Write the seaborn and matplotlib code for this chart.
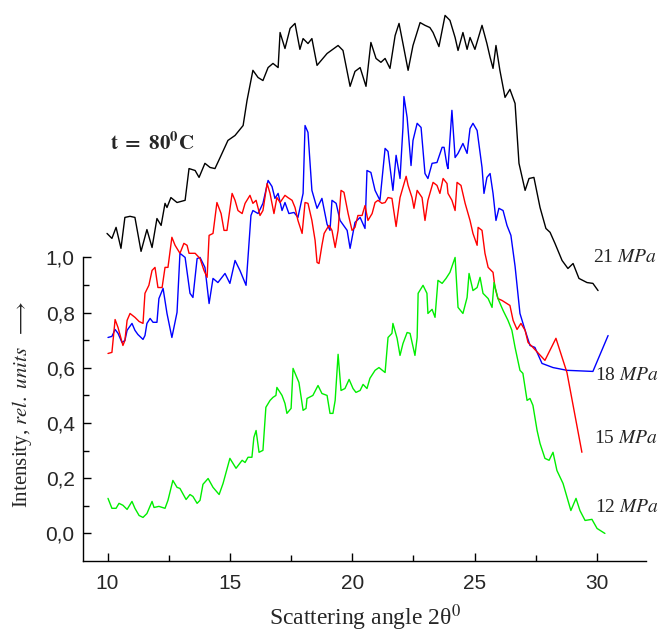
import numpy as np
import pandas as pd
import matplotlib
matplotlib.use('Agg')
import matplotlib.pyplot as plt
import seaborn as sns
from matplotlib.ticker import FuncFormatter, MultipleLocator

x_21 = [9.98, 10.18, 10.35, 10.55, 10.71, 10.92, 11.12, 11.37, 11.61, 11.82, 12.02, 12.19, 12.35, 12.43,
        12.59, 12.84, 13.17, 13.33, 13.58, 13.74, 13.98, 14.19, 14.39, 14.60, 14.92, 15.21, 15.54, 15.70,
        15.94, 16.15, 16.35, 16.56, 16.76, 16.97, 17.05, 17.25, 17.46, 17.66, 17.86, 17.99, 18.19, 18.35,
        18.56, 18.97, 19.42, 19.62, 19.91, 20.11, 20.32, 20.56, 20.76, 20.97, 21.17, 21.34, 21.54, 21.75,
        21.91, 22.07, 22.28, 22.48, 22.77, 22.97, 23.17, 23.30, 23.54, 23.79, 23.99, 24.20, 24.32, 24.52,
        24.69, 24.81, 25.01, 25.30, 25.50, 25.63, 25.75, 25.87, 26.03, 26.24, 26.44, 26.65, 26.81, 27.06,
        27.22, 27.42, 27.67, 27.91, 28.08, 28.28, 28.57, 28.81, 29.02, 29.26, 29.59, 29.83, 30.04]
y_21 = [1.087, 1.069, 1.109, 1.033, 1.145, 1.149, 1.145, 1.022, 1.101, 1.036, 1.141, 1.116, 1.196, 1.181,
        1.217, 1.199, 1.207, 1.322, 1.315, 1.290, 1.341, 1.326, 1.322, 1.362, 1.424, 1.442, 1.478, 1.569,
        1.678, 1.652, 1.641, 1.688, 1.703, 1.688, 1.815, 1.757, 1.830, 1.848, 1.754, 1.793, 1.775, 1.793,
        1.696, 1.739, 1.768, 1.750, 1.620, 1.674, 1.688, 1.620, 1.779, 1.721, 1.707, 1.721, 1.685, 1.804,
        1.848, 1.775, 1.678, 1.768, 1.851, 1.841, 1.833, 1.815, 1.764, 1.877, 1.859, 1.797, 1.750, 1.815,
        1.754, 1.797, 1.754, 1.841, 1.775, 1.725, 1.685, 1.768, 1.678, 1.580, 1.609, 1.558, 1.341, 1.243,
        1.286, 1.290, 1.181, 1.105, 1.091, 1.051, 0.989, 0.960, 0.978, 0.924, 0.909, 0.906, 0.880]

x_18 = [10.02, 10.18, 10.31, 10.43, 10.59, 10.71, 10.80, 11.00, 11.12, 11.24, 11.45, 11.53, 11.61, 11.74,
        11.86, 12.02, 12.10, 12.27, 12.43, 12.63, 12.84, 12.96, 13.17, 13.37, 13.49, 13.66, 13.78, 13.98,
        14.15, 14.31, 14.51, 14.80, 15.00, 15.21, 15.41, 15.66, 15.86, 15.94, 16.15, 16.35, 16.56, 16.72,
        16.84, 16.97, 17.13, 17.25, 17.41, 17.62, 17.78, 17.99, 18.07, 18.19, 18.35, 18.56, 18.76, 18.97,
        19.09, 19.17, 19.34, 19.50, 19.79, 19.91, 20.11, 20.32, 20.52, 20.60, 20.76, 20.93, 21.13, 21.34,
        21.46, 21.66, 21.79, 21.95, 22.07, 22.11, 22.24, 22.40, 22.48, 22.65, 22.81, 22.97, 23.09, 23.26,
        23.46, 23.67, 23.75, 23.87, 23.91, 24.07, 24.20, 24.32, 24.52, 24.69, 24.81, 24.93, 25.10, 25.30,
        25.38, 25.50, 25.63, 25.75, 25.87, 25.99, 26.16, 26.32, 26.48, 26.65, 26.85, 27.06, 27.26, 27.46,
        27.75, 28.20, 28.77, 29.83, 30.45]
y_18 = [0.710, 0.714, 0.739, 0.725, 0.692, 0.699, 0.736, 0.761, 0.736, 0.721, 0.703, 0.717, 0.761, 0.779,
        0.765, 0.765, 0.851, 0.888, 0.797, 0.710, 0.801, 1.015, 1.000, 0.870, 0.855, 0.996, 1.000, 0.964,
        0.833, 0.924, 0.909, 0.942, 0.906, 0.989, 0.953, 0.899, 1.152, 1.170, 1.159, 1.196, 1.279, 1.257,
        1.214, 1.232, 1.170, 1.199, 1.159, 1.163, 1.145, 1.232, 1.478, 1.453, 1.243, 1.178, 1.214, 1.120,
        1.098, 1.207, 1.196, 1.134, 1.098, 1.033, 1.127, 1.145, 1.105, 1.315, 1.308, 1.243, 1.207, 1.395,
        1.384, 1.243, 1.370, 1.286, 1.471, 1.583, 1.507, 1.333, 1.424, 1.486, 1.471, 1.304, 1.286, 1.341,
        1.344, 1.399, 1.399, 1.333, 1.322, 1.533, 1.362, 1.377, 1.413, 1.377, 1.467, 1.486, 1.460, 1.326,
        1.232, 1.290, 1.304, 1.232, 1.134, 1.178, 1.170, 1.116, 1.080, 0.968, 0.797, 0.736, 0.681, 0.674,
        0.616, 0.601, 0.591, 0.587, 0.717]

x_15 = [10.02, 10.18, 10.31, 10.43, 10.63, 10.71, 10.80, 10.92, 11.12, 11.29, 11.45, 11.53, 11.69, 11.82,
        11.94, 12.06, 12.23, 12.35, 12.47, 12.63, 12.76, 12.96, 13.12, 13.25, 13.33, 13.58, 13.78, 13.94,
        14.07, 14.15, 14.31, 14.47, 14.64, 14.76, 14.88, 15.09, 15.21, 15.33, 15.50, 15.62, 15.82, 15.94,
        16.07, 16.23, 16.35, 16.52, 16.64, 16.80, 16.92, 17.05, 17.25, 17.37, 17.54, 17.66, 17.78, 17.95,
        18.07, 18.19, 18.35, 18.48, 18.56, 18.64, 18.76, 18.85, 18.97, 19.05, 19.17, 19.30, 19.42, 19.54,
        19.66, 19.83, 19.99, 20.11, 20.23, 20.40, 20.52, 20.64, 20.81, 20.93, 21.05, 21.21, 21.34, 21.46,
        21.62, 21.79, 21.95, 22.07, 22.20, 22.28, 22.44, 22.52, 22.65, 22.85, 22.97, 23.09, 23.30, 23.46,
        23.58, 23.71, 23.87, 23.91, 24.07, 24.20, 24.28, 24.44, 24.61, 24.81, 24.93, 25.10, 25.14, 25.30,
        25.42, 25.55, 25.75, 25.83, 25.95, 26.12, 26.44, 26.57, 26.73, 26.89, 27.06, 27.18, 27.38, 27.87,
        28.32, 28.77, 29.38]
y_15 = [0.652, 0.656, 0.775, 0.746, 0.681, 0.699, 0.772, 0.797, 0.783, 0.768, 0.761, 0.870, 0.899, 0.953,
        0.964, 0.891, 0.891, 0.964, 0.964, 1.073, 1.044, 1.015, 1.051, 1.044, 1.015, 1.015, 0.996, 0.953,
        0.928, 1.080, 1.087, 1.199, 1.159, 1.098, 1.098, 1.232, 1.207, 1.170, 1.159, 1.196, 1.225, 1.196,
        1.207, 1.152, 1.170, 1.268, 1.232, 1.159, 1.217, 1.199, 1.225, 1.217, 1.207, 1.181, 1.134, 1.087,
        1.199, 1.196, 1.134, 1.062, 0.982, 0.978, 1.044, 1.087, 1.105, 1.116, 1.098, 1.036, 1.098, 1.243,
        1.236, 1.159, 1.098, 1.109, 1.152, 1.152, 1.188, 1.134, 1.159, 1.199, 1.207, 1.196, 1.199, 1.217,
        1.214, 1.112, 1.217, 1.254, 1.294, 1.261, 1.217, 1.178, 1.243, 1.217, 1.134, 1.207, 1.272, 1.261,
        1.232, 1.286, 1.268, 1.232, 1.207, 1.170, 1.272, 1.261, 1.196, 1.134, 1.087, 1.044, 1.109, 1.098,
        1.015, 0.964, 0.946, 0.891, 0.851, 0.844, 0.826, 0.772, 0.739, 0.761, 0.736, 0.692, 0.674, 0.627,
        0.707, 0.583, 0.294]

x_12 = [10.02, 10.18, 10.35, 10.47, 10.63, 10.80, 11.00, 11.12, 11.29, 11.45, 11.61, 11.82, 11.90, 12.10,
        12.35, 12.47, 12.67, 12.84, 12.96, 13.21, 13.37, 13.49, 13.66, 13.78, 13.90, 14.11, 14.31, 14.56,
        14.72, 15.00, 15.25, 15.50, 15.62, 15.74, 15.90, 15.98, 16.07, 16.19, 16.35, 16.47, 16.64, 16.76,
        16.88, 16.92, 17.13, 17.25, 17.33, 17.50, 17.58, 17.70, 17.82, 17.99, 18.11, 18.15, 18.39, 18.60,
        18.76, 18.97, 19.09, 19.21, 19.30, 19.42, 19.54, 19.70, 19.87, 20.03, 20.15, 20.32, 20.44, 20.60,
        20.72, 20.93, 21.09, 21.34, 21.46, 21.62, 21.66, 21.83, 21.95, 22.07, 22.24, 22.36, 22.56, 22.65,
        22.69, 22.89, 23.05, 23.09, 23.26, 23.38, 23.50, 23.67, 23.83, 23.99, 24.20, 24.32, 24.52, 24.69,
        24.77, 24.93, 25.10, 25.22, 25.34, 25.55, 25.71, 25.79, 25.95, 26.16, 26.36, 26.52, 26.65, 26.85,
        26.97, 27.14, 27.26, 27.38, 27.55, 27.67, 27.87, 28.04, 28.20, 28.36, 28.61, 28.93, 29.14, 29.30,
        29.51, 29.79, 30.00, 30.32]
y_12 = [0.127, 0.091, 0.091, 0.109, 0.102, 0.087, 0.116, 0.091, 0.065, 0.058, 0.072, 0.116, 0.094, 0.098,
        0.091, 0.120, 0.192, 0.167, 0.163, 0.123, 0.141, 0.134, 0.109, 0.120, 0.178, 0.199, 0.167, 0.141,
        0.181, 0.272, 0.236, 0.265, 0.257, 0.276, 0.276, 0.348, 0.373, 0.294, 0.301, 0.457, 0.482, 0.493,
        0.500, 0.529, 0.500, 0.471, 0.435, 0.453, 0.598, 0.573, 0.547, 0.446, 0.453, 0.489, 0.500, 0.536,
        0.507, 0.500, 0.435, 0.435, 0.482, 0.649, 0.518, 0.525, 0.558, 0.525, 0.511, 0.518, 0.540, 0.525,
        0.562, 0.591, 0.601, 0.583, 0.710, 0.725, 0.761, 0.707, 0.645, 0.688, 0.728, 0.725, 0.645, 0.710,
        0.870, 0.899, 0.870, 0.797, 0.812, 0.783, 0.917, 0.906, 0.924, 0.946, 1.000, 0.819, 0.797, 0.855,
        0.942, 0.880, 0.891, 0.928, 0.870, 0.851, 0.819, 0.909, 0.851, 0.808, 0.772, 0.736, 0.674, 0.591,
        0.580, 0.482, 0.489, 0.464, 0.373, 0.326, 0.272, 0.265, 0.294, 0.228, 0.181, 0.083, 0.127, 0.083,
        0.047, 0.051, 0.018, 0.000]

labels = ['21', '18', '15', '12']
label_x = [29.83, 29.90, 29.86, 29.90]
label_y = [1.00, 0.573, 0.344, 0.094]
colors = ['black', '#0000ff', '#ff0000', '#00ee00']

sns.set_style('ticks')
plt.rcParams['font.family'] = ['Liberation Serif', 'DejaVu Serif']
plt.rcParams['mathtext.fontset'] = 'stix'

fig = plt.figure(figsize=(6.68, 6.33), dpi=100)
ax = fig.add_axes([0.1243, 0.1137, 0.8428, 0.872])

curves = [(x_21, y_21), (x_18, y_18), (x_15, y_15), (x_12, y_12)]
for (xs, ys), c in zip(curves, colors):
    df = pd.DataFrame({'angle': xs, 'intensity': ys})
    sns.lineplot(data=df, x='angle', y='intensity', color=c, lw=1.0,
                 sort=False, estimator=None, ax=ax)

for lab, lx, ly in zip(labels, label_x, label_y):
    ax.text(lx, ly, lab + r' $\mathit{MPa}$', fontsize=14, va='center', ha='left')

ax.text(10.12, 1.413, r'$\mathbf{t\ =\ 80^{0}C}$', fontsize=15, va='center', ha='left')

ax.set_xlim(9, 32)
ax.set_ylim(-0.1, 1.9)
ax.set_xlabel('')
ax.set_ylabel('')

sns.despine(ax=ax)
ax.spines['left'].set_bounds(-0.1, 1.0)
for s in ['left', 'bottom']:
    ax.spines[s].set_linewidth(1.0)
    ax.spines[s].set_color('black')

ax.set_xticks([10, 15, 20, 25, 30])
ax.set_yticks([0.0, 0.2, 0.4, 0.6, 0.8, 1.0])
ax.xaxis.set_minor_locator(MultipleLocator(2.5))
ax.set_yticks([0.1, 0.3, 0.5, 0.7, 0.9], minor=True)
ax.yaxis.set_major_formatter(FuncFormatter(lambda v, p: f'{v:.1f}'.replace('.', ',')))
ax.tick_params(which='both', direction='in', color='black', width=1.0,
               bottom=True, left=True, top=False, right=False)
ax.tick_params(which='major', length=6)
ax.tick_params(which='minor', length=4)
ax.tick_params(axis='x', which='major', pad=9)
ax.tick_params(axis='y', which='major', pad=6)
for t in ax.get_xticklabels() + ax.get_yticklabels():
    t.set_fontfamily('Liberation Sans')
    t.set_fontsize(15)

fig.text(0.033, 0.362, r'Intensity, $\mathit{rel.\ units}$  $\longrightarrow$',
         rotation=90, fontsize=15, ha='center', va='center')
fig.text(0.547, 0.013, r'Scattering angle 2θ$^{0}$', fontsize=17, ha='center', va='baseline')

fig.savefig('out.png', dpi=100)
